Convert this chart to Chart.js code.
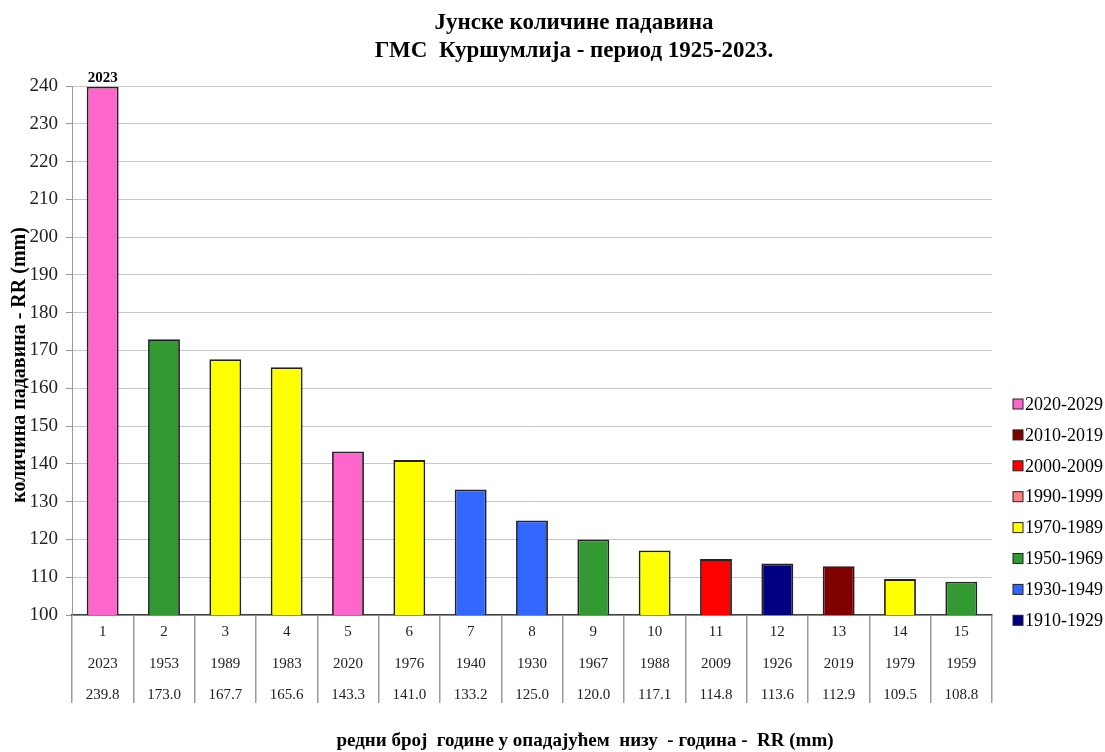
<!DOCTYPE html>
<html>
<head>
<meta charset="utf-8">
<script src="https://cdn.jsdelivr.net/npm/chart.js@4"></script>
<style>
  body { margin: 0; background: #fff; }
  #wrap { width: 1105px; height: 752px; }
</style>
</head>
<body>
<div id="wrap"><canvas id="myChart" width="1105" height="752"></canvas></div>
<script>
var ranks = [1, 2, 3, 4, 5, 6, 7, 8, 9, 10, 11, 12, 13, 14, 15];
var years = [2023, 1953, 1989, 1983, 2020, 1976, 1940, 1930, 1967, 1988, 2009, 1926, 2019, 1979, 1959];
var rr = [239.8, 173.0, 167.7, 165.6, 143.3, 141.0, 133.2, 125.0, 120.0, 117.1, 114.8, 113.6, 112.9, 109.5, 108.8];

var periodLabels = ["2020-2029", "2010-2019", "2000-2009", "1990-1999", "1970-1989", "1950-1969", "1930-1949", "1910-1929"];
var periodFrom = [2020, 2010, 2000, 1990, 1970, 1950, 1930, 1910];
var periodTo = [2029, 2019, 2009, 1999, 1989, 1969, 1949, 1929];
var periodColors = ["#ff66cc", "#800000", "#ff0000", "#ff8080", "#ffff00", "#339933", "#3366ff", "#000080"];

function colorForYear(y) {
    for (var i = 0; i < periodFrom.length; i++) {
        if (y >= periodFrom[i] && y <= periodTo[i]) return periodColors[i];
    }
    return "#999999";
}

var labels = ranks.map(function (r, i) {
    return [String(r), String(years[i]), rr[i].toFixed(1)];
});

var serif = "'Liberation Serif', 'Times New Roman', serif";

var extras = {
    id: "extras",
    afterDraw: function (chart) {
        var ctx = chart.ctx;
        ctx.save();
        ctx.fillStyle = "#000";
        ctx.textAlign = "center";
        ctx.textBaseline = "middle";

        // naslov
        ctx.font = "bold 23px " + serif;
        ctx.fillText("Јунске количине падавина", 574, 23);
        ctx.fillText("ГМС  Куршумлија - период 1925-2023.", 574, 51);

        // naziv x ose
        ctx.font = "bold 19px " + serif;
        ctx.fillText("редни број  године у опадајућем  низу  - година -  RR (mm)", 585, 741);

        // naziv y ose
        ctx.save();
        ctx.translate(20, 365);
        ctx.rotate(-Math.PI / 2);
        ctx.font = "bold 20px " + serif;
        ctx.fillText("количина падавина - RR (mm)", 0, 0);
        ctx.restore();

        // oznaka iznad prvog stupca
        var bar = chart.getDatasetMeta(0).data[0];
        ctx.font = "bold 15px " + serif;
        ctx.fillText(String(years[0]), bar.x, bar.y - 9);

        // legenda
        ctx.textAlign = "left";
        ctx.font = "18px " + serif;
        for (var i = 0; i < periodLabels.length; i++) {
            var y = 404 + i * 30.9;
            ctx.fillStyle = periodColors[i];
            ctx.fillRect(1013, y - 5, 10, 10);
            ctx.strokeStyle = "#222";
            ctx.lineWidth = 1;
            ctx.strokeRect(1013, y - 5, 10, 10);
            ctx.fillStyle = "#000";
            ctx.fillText(periodLabels[i], 1025, y + 1);
        }
        ctx.restore();
    }
};

var ctx = document.getElementById("myChart").getContext("2d");
var myBarChart = new Chart(ctx, {
    type: "bar",
    data: {
        labels: labels,
        datasets: [{
            data: rr,
            backgroundColor: years.map(colorForYear),
            borderColor: "#222",
            borderWidth: 1.8,
            borderSkipped: false,
            barPercentage: 0.52,
            categoryPercentage: 1
        }]
    },
    options: {
        responsive: false,
        animation: false,
        layout: { padding: { top: 86, right: 113, left: 0, bottom: 0 } },
        plugins: {
            legend: { display: false },
            tooltip: { enabled: false }
        },
        scales: {
            x: {
                afterFit: function (scale) { scale.height = 137; },
                grid: {
                    offset: true,
                    drawOnChartArea: false,
                    drawTicks: true,
                    tickLength: 88,
                    tickColor: "#999",
                    lineWidth: 1.5
                },
                border: { color: "#444", width: 1.5 },
                ticks: {
                    padding: -86,
                    maxRotation: 0,
                    autoSkip: false,
                    color: "#222",
                    font: { family: serif, size: 15, lineHeight: 2.07 }
                }
            },
            y: {
                min: 100,
                max: 240,
                afterFit: function (scale) { scale.width = 72; },
                border: { color: "#999", width: 1 },
                grid: {
                    color: function (c) {
                        return c.tick && c.tick.value % 10 === 0 ? "#c8c8c8" : "#f0f0f0";
                    },
                    tickColor: "#999",
                    tickLength: 6,
                    lineWidth: 1
                },
                ticks: {
                    stepSize: 5,
                    padding: 8,
                    color: "#222",
                    font: { family: serif, size: 19 },
                    callback: function (v) { return v % 10 === 0 ? v : ""; }
                }
            }
        }
    },
    plugins: [extras]
});
</script>
</body>
</html>
